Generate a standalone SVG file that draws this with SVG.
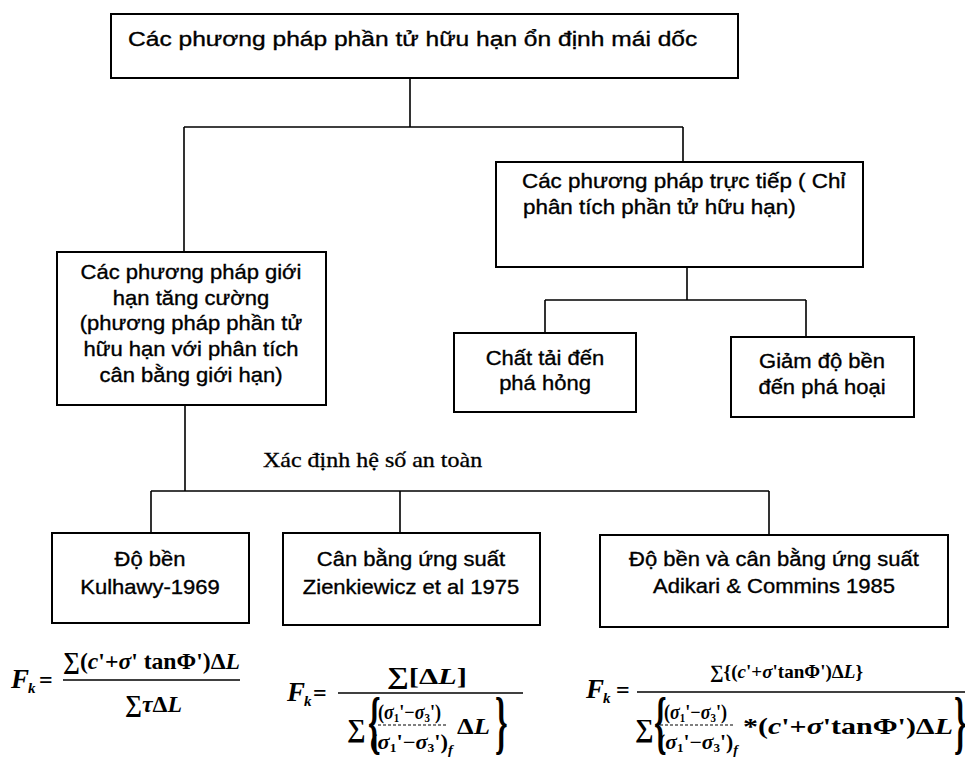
<svg xmlns="http://www.w3.org/2000/svg" width="965" height="771" viewBox="0 0 965 771">
<style>
.box{fill:#fff;stroke:#000;stroke-width:2}
.conn{stroke:#000;stroke-width:1.6;fill:none}
.t{font-family:"Liberation Sans",Arial,sans-serif;font-size:20px;fill:#000;stroke:#000;stroke-width:0.35}
.c{text-anchor:middle}
.s{font-family:"Liberation Serif","Times New Roman",serif;font-size:20px;fill:#000;stroke:#000;stroke-width:0.3}
.m{font-family:"Liberation Serif","DejaVu Serif","Times New Roman",serif;fill:#000;font-weight:bold}
.i{font-style:italic}
.bar{stroke:#000;stroke-width:1.6}
.dbar{stroke:#000;stroke-width:1.2;stroke-dasharray:3 2}
</style>
<rect width="965" height="771" fill="#fff"/>
<g id="connectors">
<path class="conn" d="M410 78V127M184 127H683M184 127V252M683 127V162"/>
<path class="conn" d="M687 267V300M545 300H806M545 300V333M806 300V337"/>
<path class="conn" d="M185 405V491M151 491H769M151 491V533M400 491V533M769 491V535"/>
</g>
<g id="n-top">
<rect class="box" x="111" y="14" width="627" height="64"/>
<text class="t" style="font-size:21px" transform="matrix(1.17 0 0 1 128 0)" x="0" y="46">Các phương pháp phần tử hữu hạn ổn định mái dốc</text>
</g>
<g id="n-direct">
<rect class="box" x="496" y="162" width="367" height="105"/>
<text class="t" transform="matrix(1.12 0 0 1 522 0)" x="0" y="188">Các phương pháp trực tiếp ( Chỉ</text>
<text class="t" transform="matrix(1.12 0 0 1 523 0)" x="0" y="214">phân tích phần tử hữu hạn)</text>
</g>
<g id="n-limit">
<rect class="box" x="57" y="252" width="269" height="153"/>
<text class="t c" transform="matrix(1.1 0 0 1 191 0)" x="0" y="279">Các phương pháp giới</text>
<text class="t c" transform="matrix(1.1 0 0 1 191 0)" x="0" y="305">hạn tăng cường</text>
<text class="t c" transform="matrix(1.1 0 0 1 191 0)" x="0" y="330">(phương pháp phần tử</text>
<text class="t c" transform="matrix(1.1 0 0 1 191 0)" x="0" y="356">hữu hạn với phân tích</text>
<text class="t c" transform="matrix(1.1 0 0 1 191 0)" x="0" y="382">cân bằng giới hạn)</text>
</g>
<g id="n-load">
<rect class="box" x="454" y="333" width="182" height="79"/>
<text class="t c" transform="matrix(1.1 0 0 1 545 0)" x="0" y="365">Chất tải đến</text>
<text class="t c" transform="matrix(1.1 0 0 1 545 0)" x="0" y="390">phá hỏng</text>
</g>
<g id="n-reduce">
<rect class="box" x="731" y="337" width="183" height="80"/>
<text class="t c" transform="matrix(1.1 0 0 1 822 0)" x="0" y="368">Giảm độ bền</text>
<text class="t c" transform="matrix(1.1 0 0 1 822 0)" x="0" y="394">đến phá hoại</text>
</g>
<g id="label-fs">
<text class="s" transform="matrix(1.2 0 0 1 263 0)" x="0" y="467">Xác định hệ số an toàn</text>
</g>
<g id="n-k1969">
<rect class="box" x="52" y="533" width="197" height="90"/>
<text class="t c" transform="matrix(1.1 0 0 1 150 0)" x="0" y="566">Độ bền</text>
<text class="t c" transform="matrix(1.1 0 0 1 150 0)" x="0" y="594">Kulhawy-1969</text>
</g>
<g id="n-z1975">
<rect class="box" x="283" y="533" width="257" height="92"/>
<text class="t c" transform="matrix(1.1 0 0 1 411 0)" x="0" y="566">Cân bằng ứng suất</text>
<text class="t c" transform="matrix(1.1 0 0 1 411 0)" x="0" y="594">Zienkiewicz et al 1975</text>
</g>
<g id="n-a1985">
<rect class="box" x="600" y="535" width="348" height="92"/>
<text class="t c" transform="matrix(1.1 0 0 1 774 0)" x="0" y="566">Độ bền và cân bằng ứng suất</text>
<text class="t c" transform="matrix(1.1 0 0 1 774 0)" x="0" y="593">Adikari &amp; Commins 1985</text>
</g>
<g id="f1">
<text class="m i" x="11" y="688" font-size="27">F</text>
<text class="m i" x="28" y="693" font-size="15">k</text>
<text class="m" x="39" y="688" font-size="24">=</text>
<line class="bar" x1="63" y1="680" x2="240" y2="680"/>
<text class="m" x="63" y="669" font-size="24" textLength="177" lengthAdjust="spacingAndGlyphs">∑(<tspan class="i">c</tspan>'+<tspan class="i">σ</tspan>' tanΦ')Δ<tspan class="i">L</tspan></text>
<text class="m" x="125" y="712" font-size="24" textLength="57" lengthAdjust="spacingAndGlyphs">∑<tspan class="i">τ</tspan>Δ<tspan class="i">L</tspan></text>
</g>
<g id="f2">
<text class="m i" x="287" y="701" font-size="27">F</text>
<text class="m i" x="304" y="706" font-size="15">k</text>
<text class="m" x="313" y="701" font-size="24">=</text>
<line class="bar" x1="338" y1="693" x2="523" y2="693"/>
<text class="m" x="387" y="684" font-size="24" textLength="80" lengthAdjust="spacingAndGlyphs">∑[Δ<tspan class="i">L</tspan>]</text>
<text class="m" x="347" y="737" font-size="26">∑</text>
<text class="m" font-size="32" transform="matrix(1 0 0 2.2 368 746)" x="0" y="0">{</text>
<text class="m" x="378" y="719" font-size="20" textLength="63" lengthAdjust="spacingAndGlyphs">(<tspan class="i">σ</tspan><tspan font-size="12" dy="3">1</tspan><tspan dy="-3">'−</tspan><tspan class="i">σ</tspan><tspan font-size="12" dy="3">3</tspan><tspan dy="-3">')</tspan></text>
<line class="dbar" x1="378" y1="725" x2="448" y2="725"/>
<text class="m" x="370" y="749" font-size="20" textLength="83" lengthAdjust="spacingAndGlyphs">(<tspan class="i">σ</tspan><tspan font-size="12" dy="3">1</tspan><tspan dy="-3">'−</tspan><tspan class="i">σ</tspan><tspan font-size="12" dy="3">3</tspan><tspan dy="-3">')</tspan><tspan class="i" font-size="13" dy="5">f</tspan></text>
<text class="m" x="457" y="734" font-size="24" textLength="33" lengthAdjust="spacingAndGlyphs">Δ<tspan class="i">L</tspan></text>
<text class="m" font-size="32" transform="matrix(1 0 0 2.2 495 746)" x="0" y="0">}</text>
</g>
<g id="f3">
<text class="m i" x="586" y="698" font-size="27">F</text>
<text class="m i" x="603" y="703" font-size="15">k</text>
<text class="m" x="616" y="698" font-size="24">=</text>
<line class="bar" x1="637" y1="692" x2="965" y2="692"/>
<text class="m" x="710" y="678" font-size="19" textLength="153" lengthAdjust="spacingAndGlyphs">∑{(<tspan class="i">c</tspan>'+<tspan class="i">σ</tspan>'tanΦ')Δ<tspan class="i">L</tspan>}</text>
<text class="m" x="635" y="737" font-size="26">∑</text>
<text class="m" font-size="32" transform="matrix(1 0 0 2.2 654 746)" x="0" y="0">{</text>
<text class="m" x="664" y="719" font-size="20" textLength="63" lengthAdjust="spacingAndGlyphs">(<tspan class="i">σ</tspan><tspan font-size="12" dy="3">1</tspan><tspan dy="-3">'−</tspan><tspan class="i">σ</tspan><tspan font-size="12" dy="3">3</tspan><tspan dy="-3">')</tspan></text>
<line class="dbar" x1="660" y1="725" x2="735" y2="725"/>
<text class="m" x="658" y="749" font-size="20" textLength="80" lengthAdjust="spacingAndGlyphs">(<tspan class="i">σ</tspan><tspan font-size="12" dy="3">1</tspan><tspan dy="-3">'−</tspan><tspan class="i">σ</tspan><tspan font-size="12" dy="3">3</tspan><tspan dy="-3">')</tspan><tspan class="i" font-size="13" dy="5">f</tspan></text>
<text class="m" x="743" y="734" font-size="24" textLength="210" lengthAdjust="spacingAndGlyphs">*(<tspan class="i">c</tspan>'+<tspan class="i">σ</tspan>'tanΦ')Δ<tspan class="i">L</tspan></text>
<text class="m" font-size="32" transform="matrix(1 0 0 2.2 954 746)" x="0" y="0">}</text>
</g>
</svg>
